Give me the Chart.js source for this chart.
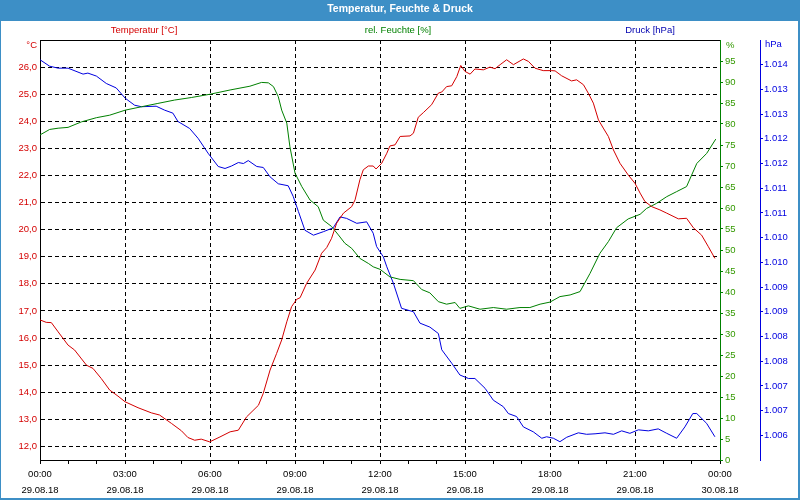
<!DOCTYPE html>
<html><head><meta charset="utf-8">
<script src="https://cdn.jsdelivr.net/npm/chart.js@4.4.0/dist/chart.umd.min.js"></script>
<style>html,body{margin:0;padding:0;background:#fff}canvas{display:block}</style>
</head><body>
<canvas id="c" width="800" height="500"></canvas>
<script>
const chartTitle = 'Temperatur, Feuchte & Druck';
const seriesNames = ['Temperatur [°C]', 'rel. Feuchte [%]', 'Druck [hPa]'];
const unitLabels = ['°C', '%', 'hPa'];
const hourTicks = [0,1,2,3,4,5,6,7,8,9,10,11,12,13,14,15,16,17,18,19,20,21,22,23,24];
const timeLabels = ['00:00','03:00','06:00','09:00','12:00','15:00','18:00','21:00','00:00'];
const dateLabels = ['29.08.18','29.08.18','29.08.18','29.08.18','29.08.18','29.08.18','29.08.18','29.08.18','30.08.18'];
const tempTicks = [12,13,14,15,16,17,18,19,20,21,22,23,24,25,26];
const humTicks = [0,5,10,15,20,25,30,35,40,45,50,55,60,65,70,75,80,85,90,95];
const pressTicks = [1006,1006.5,1007,1007.5,1008,1008.5,1009,1009.5,1010,1010.5,1011,1011.5,1012,1012.5,1013,1013.5];

const tempHours = [0,0.22,0.4,0.64,0.99,1.22,1.64,1.87,2.16,2.46,2.75,3.0,3.46,3.93,4.22,4.64,4.99,5.22,5.46,5.69,5.99,6.35,6.71,7.0,7.29,7.71,7.88,8.12,8.35,8.53,8.71,8.88,9.06,9.18,9.41,9.71,9.94,10.12,10.29,10.47,10.71,11.0,11.12,11.29,11.41,11.59,11.76,11.86,12.06,12.24,12.35,12.53,12.71,13.06,13.18,13.35,13.53,13.82,14.06,14.18,14.35,14.53,14.71,14.85,15.0,15.18,15.35,15.65,15.88,16.06,16.24,16.47,16.71,17.06,17.24,17.47,17.76,18.06,18.18,18.41,18.76,18.94,19.18,19.35,19.53,19.71,19.88,20.06,20.24,20.47,20.76,21.0,21.18,21.35,21.59,21.88,22.12,22.53,22.82,23.06,23.35,23.59,23.82];
const tempValues = [16.67,16.58,16.57,16.23,15.74,15.56,15.0,14.88,14.51,14.08,13.86,13.65,13.43,13.24,13.16,12.85,12.58,12.33,12.23,12.27,12.17,12.35,12.54,12.60,13.09,13.52,13.96,14.82,15.43,15.93,16.60,17.16,17.43,17.49,18.02,18.51,19.13,19.34,19.68,20.24,20.61,20.85,21.10,21.84,22.21,22.35,22.35,22.24,22.45,22.82,23.09,23.13,23.44,23.46,23.56,24.15,24.32,24.61,25.04,25.08,25.28,25.31,25.65,26.06,25.84,25.74,25.93,25.90,26.0,25.94,26.09,26.27,26.09,26.30,26.21,25.96,25.87,25.87,25.86,25.68,25.49,25.53,25.35,25.04,24.67,24.05,23.75,23.44,22.94,22.45,22.02,21.71,21.35,21.04,20.85,20.73,20.61,20.40,20.42,20.07,19.80,19.37,18.94];

const humHours = [0,0.34,0.64,0.99,1.46,1.99,2.46,3.01,3.58,4.16,4.75,5.34,6.01,6.71,7.41,7.82,8.06,8.24,8.41,8.53,8.71,8.82,9.0,9.24,9.53,9.82,10.0,10.29,10.53,10.76,11.0,11.29,11.59,11.76,12.0,12.35,12.71,13.18,13.47,13.76,14.06,14.35,14.65,14.82,15.12,15.53,16.0,16.47,16.94,17.29,17.65,18.0,18.35,18.71,19.06,19.41,19.76,20.06,20.35,20.76,21.18,21.41,21.76,22.12,22.47,22.82,23.18,23.53,23.85];
const humValues = [77.4,78.7,79.0,79.2,80.5,81.5,82.1,83.3,84.1,84.9,85.7,86.3,87.1,88.1,89.0,89.9,89.8,88.9,86.5,83.3,80.2,74.6,68.3,65.1,61.9,60.3,57.1,55.6,53.6,51.6,50.4,48.0,46.8,46.0,45.4,43.6,43.0,42.7,40.6,39.8,37.7,37.1,37.5,36.1,36.7,35.9,36.3,35.9,36.3,36.3,37.1,37.6,38.9,39.3,40.1,44.4,49.2,52.0,55.3,57.4,58.5,59.9,61.1,62.7,63.9,65.1,70.6,73.0,76.4];

const pressHours = [0,0.34,0.64,0.99,1.52,1.69,1.99,2.34,2.69,3.01,3.34,3.58,4.1,4.4,4.69,4.87,5.28,5.58,5.93,6.29,6.53,6.76,7.0,7.18,7.35,7.65,7.88,8.12,8.41,8.76,8.94,9.12,9.35,9.65,10.0,10.35,10.59,10.82,11.18,11.53,11.76,11.88,12.12,12.24,12.47,12.76,13.18,13.41,13.76,14.06,14.18,14.53,14.82,15.12,15.35,15.71,16.0,16.35,16.53,16.82,17.06,17.41,17.71,17.88,18.12,18.35,18.59,19.0,19.29,19.59,19.94,20.24,20.53,20.82,21.12,21.47,21.82,22.12,22.47,22.76,23.04,23.18,23.53,23.82];
const pressValues = [1013.60,1013.47,1013.43,1013.43,1013.31,1013.33,1013.27,1013.12,1013.03,1012.82,1012.68,1012.65,1012.66,1012.58,1012.52,1012.35,1012.21,1012.01,1011.71,1011.44,1011.40,1011.45,1011.52,1011.50,1011.56,1011.44,1011.42,1011.23,1011.09,1011.05,1010.83,1010.53,1010.15,1010.05,1010.12,1010.20,1010.42,1010.39,1010.29,1010.32,1010.09,1009.82,1009.61,1009.41,1009.08,1008.57,1008.50,1008.27,1008.19,1008.06,1007.73,1007.46,1007.22,1007.15,1007.15,1006.95,1006.71,1006.58,1006.44,1006.38,1006.17,1006.07,1005.94,1005.97,1005.94,1005.87,1005.96,1006.05,1006.02,1006.03,1006.05,1006.02,1006.09,1006.04,1006.11,1006.09,1006.13,1006.04,1005.94,1006.17,1006.44,1006.44,1006.24,1005.97];

const RED = '#d40000', GREEN = '#008000', BLUE = '#0000e0', FRAME = '#3d8fc6';
const FONT = "'Liberation Sans', Arial, sans-serif";
Chart.defaults.font.family = FONT;
Chart.defaults.font.size = 9.5;

const toPts = (xs, ys) => xs.map((x, i) => ({x: x, y: ys[i]}));

const framePlugin = {
  id: 'frame',
  beforeDraw(chart) {
    const ctx = chart.ctx, W = chart.width, H = chart.height, ca = chart.chartArea;
    ctx.save();
    ctx.fillStyle = '#fff';
    ctx.fillRect(0, 0, W, H);
    ctx.fillStyle = FRAME;
    ctx.fillRect(0, 0, W, 21);
    ctx.fillStyle = '#fff';
    ctx.font = "bold 10.5px " + FONT;
    ctx.textAlign = 'center';
    ctx.textBaseline = 'middle';
    ctx.fillText(chartTitle, W / 2, 9.5);
    ctx.font = "9.5px " + FONT;
    const cols = [RED, GREEN, '#0000b0'];
    const cx = [144, 398, 650];
    seriesNames.forEach((n, i) => { ctx.fillStyle = cols[i]; ctx.fillText(n, cx[i], 30.5); });
    ctx.textAlign = 'right';
    ctx.fillStyle = RED;
    ctx.fillText(unitLabels[0], ca.left - 3, ca.top + 5);
    ctx.textAlign = 'left';
    ctx.fillStyle = '#339900';
    ctx.fillText(unitLabels[1], ca.right + 6, ca.top + 5);
    ctx.fillStyle = BLUE;
    ctx.fillText(unitLabels[2], ca.right + 45, ca.top + 4);
    ctx.restore();
  },
  afterDraw(chart) {
    const ctx = chart.ctx, W = chart.width, H = chart.height;
    ctx.save();
    ctx.fillStyle = FRAME;
    ctx.fillRect(0, 0, 1, H);
    ctx.fillRect(W - 2, 0, 2, H);
    ctx.fillRect(0, H - 2, W, 2);
    ctx.restore();
  }
};

new Chart(document.getElementById('c'), {
  type: 'line',
  data: {
    datasets: [
      {label: seriesNames[0], data: toPts(tempHours, tempValues), yAxisID: 'y', xAxisID: 'x', borderColor: RED, borderWidth: 1, pointRadius: 0, tension: 0, fill: false},
      {label: seriesNames[1], data: toPts(humHours, humValues), yAxisID: 'y1', xAxisID: 'x', borderColor: GREEN, borderWidth: 1, pointRadius: 0, tension: 0, fill: false},
      {label: seriesNames[2], data: toPts(pressHours, pressValues), yAxisID: 'y2', xAxisID: 'x', borderColor: BLUE, borderWidth: 1, pointRadius: 0, tension: 0, fill: false}
    ]
  },
  options: {
    responsive: false,
    animation: false,
    devicePixelRatio: 1,
    layout: {padding: {top: 40, left: 0, right: 0, bottom: 0}},
    plugins: {legend: {display: false}, title: {display: false}, tooltip: {enabled: false}},
    scales: {
      x: {
        type: 'linear', position: 'bottom', min: 0, max: 24,
        afterBuildTicks: s => { s.ticks = hourTicks.map(v => ({value: v})); },
        afterFit: s => { s.height = 40; },
        ticks: {
          autoSkip: false, maxRotation: 0, minRotation: 0, color: '#000', padding: 2,
          font: {size: 9.5, lineHeight: 1.7},
          callback: v => (v % 3 === 0) ? [timeLabels[v / 3], dateLabels[v / 3]] : ''
        },
        grid: {
          color: c => (c.tick && c.tick.value % 3 === 0 && c.tick.value > 0 && c.tick.value < 24) ? '#000' : 'rgba(0,0,0,0)',
          tickColor: '#000', tickLength: 4, lineWidth: 1
        },
        border: {color: '#000', dash: [4, 3]}
      },
      xTop: {
        type: 'linear', position: 'top', min: 0, max: 24,
        afterFit: s => { s.height = 0; },
        ticks: {display: false},
        grid: {drawOnChartArea: false, drawTicks: false},
        border: {color: '#000'}
      },
      y: {
        type: 'linear', position: 'left', min: 11.5, max: 27,
        afterBuildTicks: s => { s.ticks = tempTicks.map(v => ({value: v})); },
        afterFit: s => { s.width = 40; },
        ticks: {color: RED, padding: 3, callback: v => v.toFixed(1).replace('.', ',')},
        grid: {color: '#000', drawTicks: false, lineWidth: 1},
        border: {color: '#000', dash: [4, 3]}
      },
      y1: {
        type: 'linear', position: 'right', weight: 0, min: 0, max: 100,
        afterBuildTicks: s => { s.ticks = humTicks.map(v => ({value: v})); },
        afterFit: s => { s.width = 40; },
        ticks: {color: '#339900', padding: 2},
        grid: {drawOnChartArea: false, tickColor: GREEN, tickLength: 3},
        border: {color: GREEN}
      },
      y2: {
        type: 'linear', position: 'right', weight: 1, min: 1005.5, max: 1014,
        afterBuildTicks: s => { s.ticks = pressTicks.map(v => ({value: v})); },
        afterFit: s => { s.width = 40; },
        ticks: {color: BLUE, padding: 1, callback: v => (Math.round(v) / 1000).toFixed(3)},
        grid: {drawOnChartArea: false, tickColor: BLUE, tickLength: 3},
        border: {color: BLUE}
      }
    }
  },
  plugins: [framePlugin]
});
</script>
</body></html>
